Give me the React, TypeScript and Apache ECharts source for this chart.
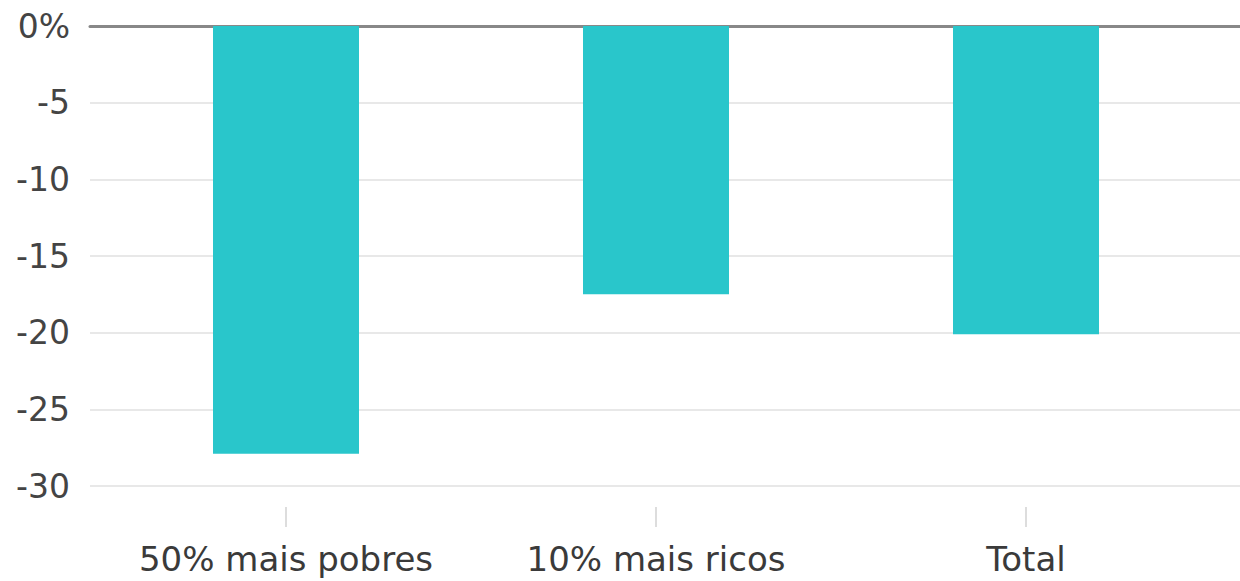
import React, { useEffect, useRef } from "react";
import * as echarts from "echarts";

const categories = ["50% mais pobres", "10% mais ricos", "Total"];
const values = [-27.9, -17.5, -20.1];
const yMin = -30;
const yMax = 0;
const yInterval = 5;

export default function App() {
  const ref = useRef<HTMLDivElement>(null);
  useEffect(() => {
    document.body.style.margin = "0";
    const chart = echarts.init(ref.current!, null, { renderer: "svg" });
    const font = "DejaVu Sans";
    chart.setOption({
      animation: false,
      backgroundColor: "#ffffff",
      grid: [
        { left: 90, right: 0, top: 26, height: 460 },
        { left: 101, right: 29, top: 26, height: 460 },
      ],
      xAxis: [
        {
          gridIndex: 0,
          type: "value",
          position: "top",
          min: 0,
          max: 1,
          axisLine: { show: true, onZero: false, lineStyle: { color: "#888888", width: 3 } },
          axisTick: { show: false },
          axisLabel: { show: false },
          splitLine: { show: false },
        },
        {
          gridIndex: 1,
          type: "category",
          data: categories,
          position: "bottom",
          offset: 21,
          axisLine: { show: true, onZero: false, lineStyle: { color: "rgba(0,0,0,0)", width: 0 } },
          axisTick: {
            show: true,
            interval: 0,
            alignWithLabel: true,
            length: 20,
            lineStyle: { color: "#dddddd", width: 2 },
          },
          axisLabel: {
            interval: 0,
            hideOverlap: false,
            margin: 35,
            fontSize: 34,
            color: "#3a3a3a",
            fontFamily: font,
          },
          splitLine: { show: false },
        },
      ],
      yAxis: [
        {
          gridIndex: 0,
          type: "value",
          min: yMin,
          max: yMax,
          interval: yInterval,
          axisLine: { show: false },
          axisTick: { show: false },
          axisLabel: {
            margin: 20,
            fontSize: 33,
            color: "#444444",
            fontFamily: font,
            formatter: (v: number) => (v === 0 ? "0%" : String(v)),
          },
          splitLine: { show: true, lineStyle: { color: "#e8e8e8", width: 2 } },
        },
        {
          gridIndex: 1,
          type: "value",
          min: yMin,
          max: yMax,
          interval: yInterval,
          show: false,
        },
      ],
      series: [
        {
          type: "bar",
          xAxisIndex: 1,
          yAxisIndex: 1,
          data: values,
          barWidth: 146,
          itemStyle: { color: "#29c6cb" },
          z: 1,
        },
      ],
    });
    return () => chart.dispose();
  }, []);
  return <div ref={ref} style={{ width: 1240, height: 581 }} />;
}
